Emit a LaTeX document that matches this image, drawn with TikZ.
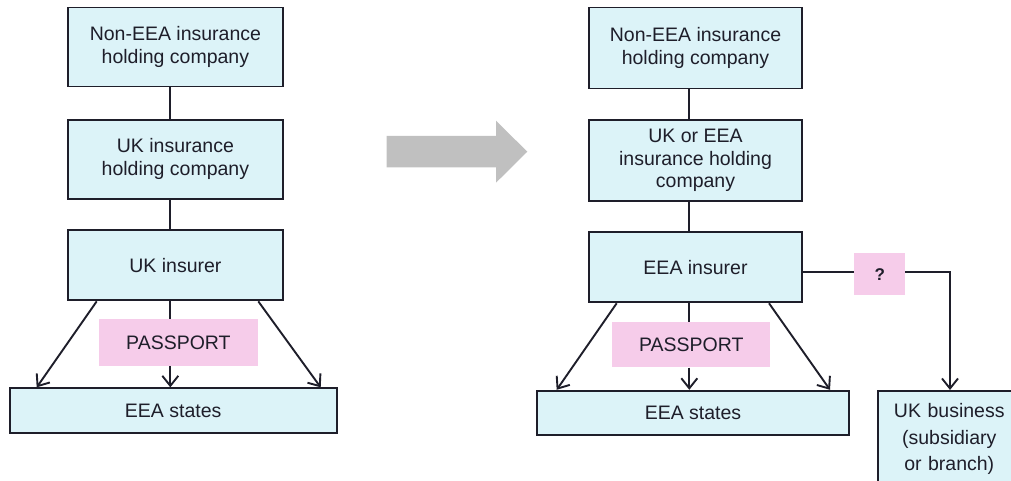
\documentclass[tikz,border=0pt]{standalone}
\usepackage{fontspec}
\setmainfont{Liberation Sans}
\usetikzlibrary{arrows.meta}
\definecolor{boxfill}{HTML}{DCF3F8}
\definecolor{pinkfill}{HTML}{F6CCEA}
\definecolor{arrowgray}{HTML}{C0C0C0}
\definecolor{ink}{HTML}{1E1E2A}
\begin{document}
\begin{tikzpicture}[x=1pt,y=-1pt,
  box/.style={draw=ink, line width=1.9pt, fill=boxfill, inner sep=0pt, align=center,
              font=\fontsize{19.5}{22.5}\selectfont, text=ink},
  tagbox/.style={fill=pinkfill, inner sep=0pt, font=\fontsize{19.5}{22.5}\selectfont, text=ink},
  link/.style={draw=ink, line width=1.9pt},
  arr/.style={link, -{Straight Barb[length=10pt,width=16pt,line width=1.9pt]}},
  bigarrow/.style={fill=arrowgray, draw=none}
]
\useasboundingbox (0,0) rectangle (1011,481);
\clip (0,0) rectangle (1011,481);

% ---------- left column ----------
\node[box, minimum width=215pt, minimum height=79pt] (L1) at (175.4,47) {Non-EEA insurance\\holding company};
\node[box, minimum width=215pt, minimum height=79pt] (L2) at (175.4,159.2) {UK insurance\\holding company};
\node[box, minimum width=215pt, minimum height=70pt] (L3) at (175.4,265.4) {UK insurer};
\node[box, minimum width=327pt, minimum height=45pt] (LS) at (173.2,410.8) {EEA states};
\node[tagbox, minimum width=158.7pt, minimum height=46.4pt] (LP) at (178.4,342.5) {PASSPORT};

\coordinate (spineL) at (170.3,0);
\coordinate (ldA) at (96.7,0);
\coordinate (ldB) at (258.3,0);
\coordinate (leA) at (36.7,0);
\coordinate (leB) at (320.7,0);

\draw[link] (L1.south -| spineL) -- (L2.north -| spineL);
\draw[link] (L2.south -| spineL) -- (L3.north -| spineL);
\draw[link] (L3.south -| spineL) -- (LP.north -| spineL);
\draw[arr] (LP.south -| spineL) -- (LS.north -| spineL);
\draw[arr] (L3.south -| ldA) -- (LS.north -| leA);
\draw[arr] (L3.south -| ldB) -- (LS.north -| leB);

% ---------- transition arrow ----------
\fill[bigarrow] (386.7,136) -- (496,136) -- (496,120.7) -- (527.3,151.7)
  -- (496,182.7) -- (496,167.3) -- (386.7,167.3) -- cycle;

% ---------- right column ----------
\node[box, minimum width=213pt, minimum height=81pt] (R1) at (695.5,48) {Non-EEA insurance\\holding company};
\node[box, minimum width=213pt, minimum height=80.5pt] (R2) at (695.5,160.4) {UK or EEA\\insurance holding\\company};
\node[box, minimum width=213pt, minimum height=70pt] (R3) at (695.5,267.3) {EEA insurer};
\node[box, minimum width=312.6pt, minimum height=44.3pt] (RS) at (693,412.9) {EEA states};
\node[tagbox, minimum width=158.3pt, minimum height=45.6pt] (RP) at (691.2,344.5) {PASSPORT};
\node[tagbox, minimum width=50.7pt, minimum height=42pt, font=\bfseries\fontsize{17}{20}\selectfont] (Q) at (879.7,274.3) {?};
\node[box, anchor=north west, text width=142pt, inner xsep=0pt, inner ysep=12.5pt,
      font=\fontsize{19.5}{26.5}\selectfont, align=center] (UB) at (877.3,390)
  {UK business\\(subsidiary\\or branch)\\[40pt]};

\coordinate (spineR) at (689.3,0);
\coordinate (rdA) at (616.7,0);
\coordinate (rdB) at (769,0);
\coordinate (reA) at (556.7,0);
\coordinate (reB) at (830,0);
\coordinate (sideY) at (0,272.3);
\coordinate (ubX) at (950,0);

\draw[link] (R1.south -| spineR) -- (R2.north -| spineR);
\draw[link] (R2.south -| spineR) -- (R3.north -| spineR);
\draw[link] (R3.south -| spineR) -- (RP.north -| spineR);
\draw[arr] (RP.south -| spineR) -- (RS.north -| spineR);
\draw[arr] (R3.south -| rdA) -- (RS.north -| reA);
\draw[arr] (R3.south -| rdB) -- (RS.north -| reB);

\draw[link] (R3.east |- sideY) -- (Q.west |- sideY);
\draw[arr] (Q.east |- sideY) -- (ubX |- sideY) -- (UB.north -| ubX);
\end{tikzpicture}
\end{document}
